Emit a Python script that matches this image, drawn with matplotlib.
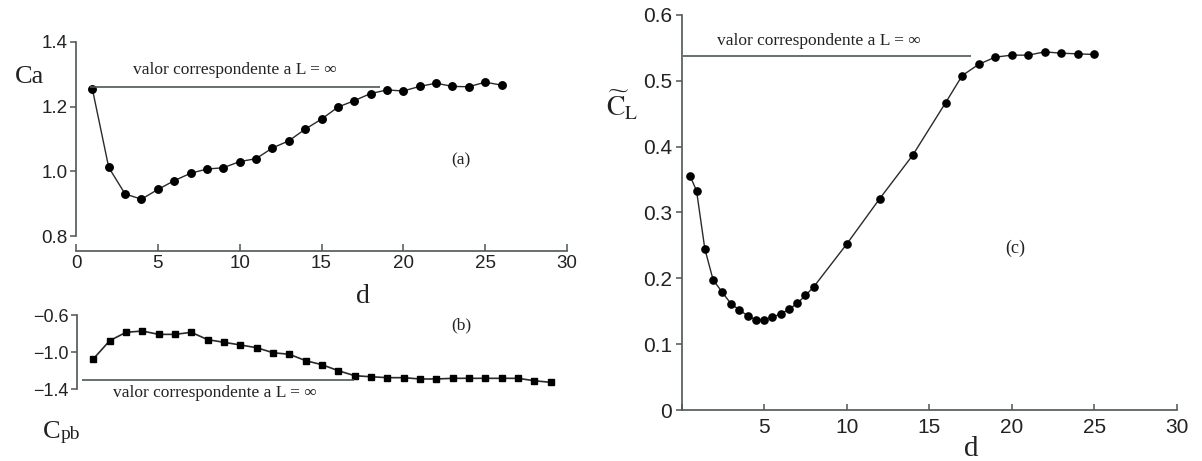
import matplotlib
matplotlib.use('Agg')
import matplotlib.pyplot as plt

plt.rcParams['mathtext.fontset'] = 'stix'
plt.rcParams['font.family'] = ['Liberation Sans', 'DejaVu Sans']

# ---------------- data ----------------
# (a) Ca vs d
d_a = list(range(1, 27))
ca = [1.254, 1.012, 0.930, 0.914, 0.944, 0.971, 0.994, 1.007, 1.011, 1.030,
      1.039, 1.072, 1.094, 1.130, 1.161, 1.198, 1.218, 1.240, 1.251, 1.248,
      1.262, 1.272, 1.262, 1.261, 1.275, 1.266]
ca_inf = 1.259

# (b) Cpb vs d
d_b = list(range(1, 30))
cpb = [-1.072, -0.876, -0.786, -0.772, -0.808, -0.808, -0.786, -0.865, -0.893,
       -0.922, -0.951, -1.005, -1.022, -1.090, -1.134, -1.198, -1.252, -1.263,
       -1.273, -1.273, -1.287, -1.287, -1.280, -1.280, -1.280, -1.280, -1.280,
       -1.306, -1.323]
cpb_inf = -1.296

# (c) C_L (rms) vs d
d_c = [0.5, 0.9, 1.4, 1.9, 2.45, 3.0, 3.5, 4.0, 4.5, 5.0, 5.5, 6.0, 6.5, 7.0,
       7.5, 8.0, 10, 12, 14, 16, 17, 18, 19, 20, 21, 22, 23, 24, 25]
cl = [0.356, 0.333, 0.245, 0.198, 0.179, 0.161, 0.152, 0.143, 0.137, 0.137,
      0.141, 0.146, 0.153, 0.162, 0.174, 0.187, 0.252, 0.321, 0.387, 0.467,
      0.508, 0.525, 0.536, 0.539, 0.539, 0.544, 0.542, 0.541, 0.540]
cl_inf = 0.537

xticks_ab = [0, 5, 10, 15, 20, 25, 30]
yticks_a = [0.8, 1.0, 1.2, 1.4]
ytick_labels_a = ['0.8', '1.0', '1.2', '1.4']
yticks_b = [-1.4, -1.0, -0.6]
ytick_labels_b = ['\u22121.4', '\u22121.0', '\u22120.6']
xticks_c = [0, 5, 10, 15, 20, 25, 30]
xtick_labels_c = ['', '5', '10', '15', '20', '25', '30']
yticks_c = [0, 0.1, 0.2, 0.3, 0.4, 0.5, 0.6]
ytick_labels_c = ['0', '0.1', '0.2', '0.3', '0.4', '0.5', '0.6']

label_inf = 'valor correspondente a L = \u221e'

# ---------------- style ----------------
W, H = 1202, 461
SERIF = ['Liberation Serif', 'DejaVu Serif']
LINE = '#2a2a2a'
SPINE = '#4d5752'
TXT = '#222222'

fig = plt.figure(figsize=(W / 100, H / 100), dpi=100)
fig.patch.set_facecolor('white')


def px_axes(x0, y_top, x1, y_bot):
    return fig.add_axes([x0 / W, 1 - y_bot / H, (x1 - x0) / W, (y_bot - y_top) / H])


def style(ax):
    for s in ax.spines.values():
        s.set_color(SPINE)
        s.set_linewidth(1.2)
    ax.spines['top'].set_visible(False)
    ax.spines['right'].set_visible(False)
    ax.tick_params(colors=SPINE, labelcolor=TXT, width=1.1)
    ax.set_facecolor('none')


# ---------------- (a) ----------------
axa = px_axes(76, 41.7, 567, 250.7)
style(axa)
axa.set_xlim(0, 30)
axa.set_ylim(0.755, 1.4)
axa.spines['left'].set_bounds(0.8, 1.4)
axa.plot(d_a, ca, '-', color=LINE, lw=1.0, clip_on=False)
axa.plot(d_a, ca, 'o', color='black', ms=5.4, clip_on=False)
axa.hlines(ca_inf, 0.85, 18.6, color=SPINE, lw=1.2)
axa.text(9.7, 1.313, label_inf, family=SERIF, fontsize=12.5, color=TXT,
         ha='center', va='center')
axa.text(23.5, 1.035, '(a)', family=SERIF, fontsize=12.5, color=TXT,
         ha='center', va='center')
axa.set_xticks(xticks_ab)
axa.set_yticks(yticks_a)
axa.set_yticklabels(ytick_labels_a)
axa.tick_params(axis='x', direction='in', length=5, labelsize=13.5, pad=3)
axa.tick_params(axis='y', direction='out', length=4, labelsize=13.5, pad=2)

# ---------------- (b) ----------------
axb = px_axes(77, 315, 567, 389.5)
style(axb)
axb.set_xlim(0, 30)
axb.set_ylim(-1.4, -0.6)
axb.spines['bottom'].set_visible(False)
axb.set_xticks([])
axb.plot(d_b, cpb, '-', color=LINE, lw=1.2, clip_on=False)
axb.plot(d_b, cpb, 's', color='black', ms=5.0, clip_on=False)
axb.hlines(cpb_inf, 0.3, 16.95, color=SPINE, lw=1.2)
axb.text(8.45, -1.438, label_inf, family=SERIF, fontsize=12.5, color=TXT,
         ha='center', va='center', clip_on=False)
axb.text(23.5, -0.707, '(b)', family=SERIF, fontsize=12.5, color=TXT,
         ha='center', va='center', clip_on=False)
axb.set_yticks(yticks_b)
axb.set_yticklabels(ytick_labels_b)
axb.tick_params(axis='y', direction='out', length=4, labelsize=13, pad=2)

# ---------------- (c) ----------------
axc = px_axes(681.7, 15, 1176.7, 410)
style(axc)
axc.set_xlim(0, 30)
axc.set_ylim(0, 0.6)
axc.plot(d_c, cl, '-', color=LINE, lw=1.0, clip_on=False)
axc.plot(d_c, cl, 'o', color='black', ms=5.2, clip_on=False)
axc.hlines(cl_inf, 0.1, 17.55, color=SPINE, lw=1.2)
axc.text(8.3, 0.561, label_inf, family=SERIF, fontsize=12.5, color=TXT,
         ha='center', va='center')
axc.text(20.2, 0.246, '(c)', family=SERIF, fontsize=13, color=TXT,
         ha='center', va='center')
axc.set_xticks(xticks_c)
axc.set_xticklabels(xtick_labels_c)
axc.set_yticks(yticks_c)
axc.set_yticklabels(ytick_labels_c)
axc.tick_params(axis='x', direction='in', length=4, labelsize=15, pad=6)
axc.tick_params(axis='y', direction='out', length=4, labelsize=15, pad=3)

# ---------------- axis titles ----------------
def ftext(x, y, s, **kw):
    return fig.text(x / W, 1 - y / H, s, **kw)

ftext(30, 77, 'Ca', family=SERIF, fontsize=19, color=TXT, ha='center', va='center')
tc = ftext(52, 432, 'C', family=SERIF, fontsize=19, color=TXT, ha='center', va='center')
plt.annotate('pb', xy=(1.0, 0.0), xycoords=tc, family=SERIF, fontsize=14,
             color=TXT, ha='left', va='bottom', annotation_clip=False)
ftext(622, 106, r'$\widetilde{\mathrm{C}}_{\mathrm{L}}$', fontsize=20, color=TXT,
      ha='center', va='center')
ftext(363, 296, 'd', family=SERIF, fontsize=20, color=TXT, ha='center', va='center')
ftext(971, 449, 'd', family=SERIF, fontsize=21, color=TXT, ha='center', va='center')

fig.savefig('out.png', dpi=100, facecolor='white')
